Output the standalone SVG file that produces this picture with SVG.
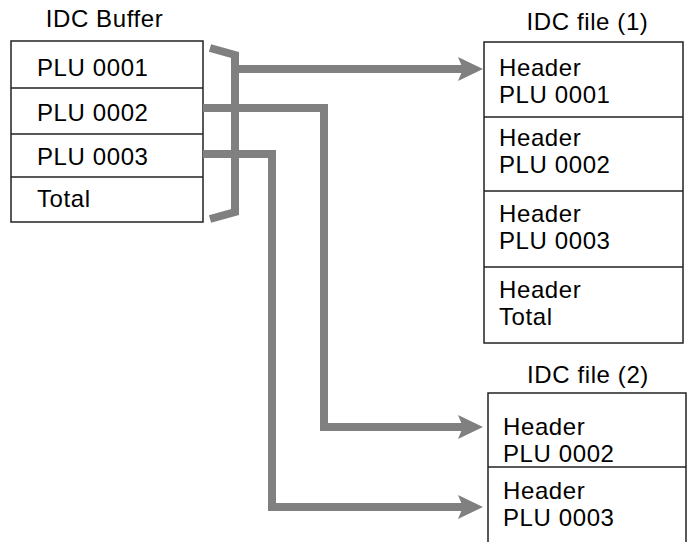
<svg xmlns="http://www.w3.org/2000/svg" width="687" height="542" viewBox="0 0 687 542">
<style>
text{font-family:"Liberation Sans",Arial,sans-serif;font-size:24px;letter-spacing:0.6px;fill:#000}
.t{text-anchor:middle}
.box{fill:#fff;stroke:#222;stroke-width:1.5}
.sep{stroke:#222;stroke-width:1.5;fill:none}
.con{fill:none;stroke:#808080;stroke-width:8;stroke-linejoin:miter}
.head{fill:#808080}
</style>
<rect width="687" height="542" fill="#fff"/>
<g id="buffer">
<text class="t" x="104.5" y="27">IDC Buffer</text>
<rect class="box" x="11" y="41" width="192" height="181"/>
<path class="sep" d="M11,88H203M11,134H203M11,177H203"/>
<text x="37" y="76">PLU 0001</text>
<text x="37" y="121">PLU 0002</text>
<text x="37" y="165">PLU 0003</text>
<text x="37" y="207">Total</text>
</g>
<g id="file1">
<text class="t" x="587.5" y="30">IDC file (1)</text>
<rect class="box" x="484" y="42" width="199" height="301"/>
<path class="sep" d="M484,117H683M484,191H683M484,267H683"/>
<text x="499" y="76">Header</text>
<text x="499" y="103">PLU 0001</text>
<text x="499" y="146">Header</text>
<text x="499" y="173">PLU 0002</text>
<text x="499" y="222">Header</text>
<text x="499" y="249">PLU 0003</text>
<text x="499" y="298">Header</text>
<text x="499" y="325">Total</text>
</g>
<g id="file2">
<text class="t" x="588" y="383">IDC file (2)</text>
<path class="box" d="M488,543V393H686V543"/>
<path class="sep" d="M488,467H686"/>
<text x="503" y="435">Header</text>
<text x="503" y="462">PLU 0002</text>
<text x="503" y="499">Header</text>
<text x="503" y="526">PLU 0003</text>
</g>
<g id="connectors">
<polyline class="con" points="210,48 235,55 235,212 210,219"/>
<polyline class="con" points="235,69 466,69"/>
<path class="head" d="M458,57L483,69L458,81L463,69Z"/>
<polyline class="con" points="203,108 324,108 324,427 466,427"/>
<path class="head" d="M458,415L483,427L458,439L463,427Z"/>
<polyline class="con" points="203,154 272,154 272,507 466,507"/>
<path class="head" d="M458,495L483,507L458,519L463,507Z"/>
</g>
</svg>
